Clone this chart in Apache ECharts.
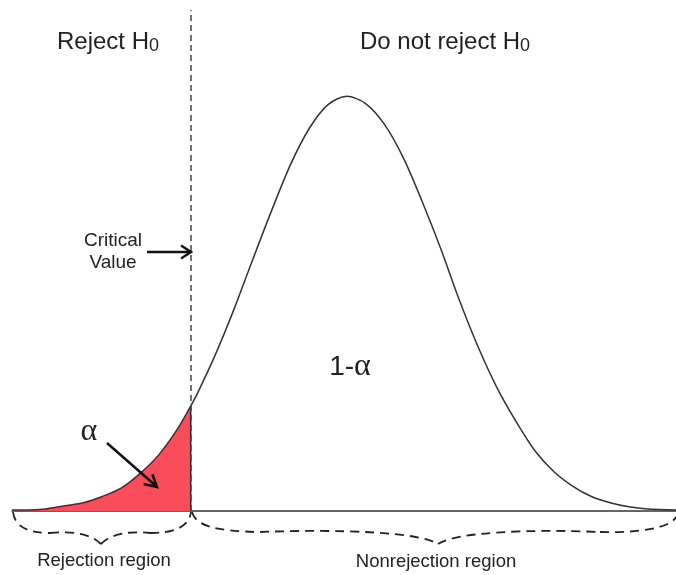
<!DOCTYPE html>
<html>
<head>
<meta charset="utf-8">
<script src="https://cdn.jsdelivr.net/npm/echarts@6/dist/echarts.min.js"></script>
<style>
  html, body { margin: 0; padding: 0; background: #fff; }
  #chart { width: 676px; height: 575px; }
</style>
</head>
<body>
<div id="chart"></div>
<script>
// curve: z position and height of the density
const zValues = [-3.56, -3.4, -3.2, -3.0, -2.8, -2.6, -2.4, -2.2, -2.0, -1.8,
  -1.66, -1.6, -1.4, -1.2, -1.0, -0.8, -0.6, -0.4, -0.2, 0,
  0.2, 0.4, 0.6, 0.8, 1.0, 1.2, 1.4, 1.6, 1.8, 2.0,
  2.2, 2.4, 2.6, 2.8, 3.0, 3.2, 3.5];
const density = [0.001, 0.001, 0.002, 0.005, 0.008, 0.014, 0.022, 0.036, 0.054, 0.079,
  0.101, 0.111, 0.150, 0.194, 0.242, 0.289, 0.333, 0.368, 0.391, 0.399,
  0.392, 0.372, 0.340, 0.298, 0.252, 0.202, 0.157, 0.118, 0.086, 0.058,
  0.038, 0.024, 0.014, 0.008, 0.004, 0.002, 0.001];
const criticalZ = -1.66;
const criticalDensity = 0.101;

const curveData = zValues.map((z, i) => [z, density[i]]);
const tailData = curveData.filter(d => d[0] <= criticalZ);

const font = "'Liberation Sans', Arial, sans-serif";
const serif = "'Liberation Serif', 'Times New Roman', serif";
const ink = '#222';
const red = '#f94d5c';

const chart = echarts.init(document.getElementById('chart'));

// dashed braces under the axis
const braceStyle = { stroke: ink, lineWidth: 1.8, lineDash: [9, 6], fill: null };
const brace = (x1, y1, cpx1, cpy1, cpx2, cpy2, x2, y2) => ({
  type: 'bezierCurve', z: 100, silent: true,
  shape: { x1, y1, cpx1, cpy1, cpx2, cpy2, x2, y2 },
  style: braceStyle
});

const option = {
  animation: false,
  backgroundColor: '#fff',
  grid: { left: 12, right: 0, top: 10, bottom: 64 },
  xAxis: {
    type: 'value', min: -3.56, max: 3.5,
    axisLine: { show: true, lineStyle: { color: '#333', width: 1.5 } },
    axisTick: { show: false }, axisLabel: { show: false }, splitLine: { show: false }
  },
  yAxis: {
    type: 'value', min: 0, max: 0.482, show: false
  },
  series: [
    {
      // rejection area fill
      type: 'line', data: tailData, smooth: 0.3, showSymbol: false, z: 2,
      lineStyle: { width: 0 }, areaStyle: { color: red, opacity: 1 }
    },
    {
      type: 'line', data: curveData, smooth: 0.3, showSymbol: false, z: 3,
      lineStyle: { color: '#333', width: 1.5 },
      markLine: {
        silent: true, symbol: 'none', label: { show: false },
        lineStyle: { color: '#444', width: 1.5, type: [6, 4] },
        data: [{ xAxis: criticalZ }]
      }
    },
    {
      type: 'line', data: [[criticalZ, 0], [criticalZ, criticalDensity]],
      showSymbol: false, z: 4, lineStyle: { color: ink, width: 1.5 }
    }
  ],
  graphic: [
    {
      type: 'text', z: 100, x: 57, y: 29,
      style: {
        text: '{m|Reject H}{s|0}', align: 'left', verticalAlign: 'top',
        rich: {
          m: { fontFamily: font, fontSize: 24, lineHeight: 26, fill: ink },
          s: { fontFamily: font, fontSize: 18, lineHeight: 17, verticalAlign: 'bottom', fill: ink }
        }
      }
    },
    {
      type: 'text', z: 100, x: 360, y: 29,
      style: {
        text: '{m|Do not reject H}{s|0}', align: 'left', verticalAlign: 'top',
        rich: {
          m: { fontFamily: font, fontSize: 24, lineHeight: 26, fill: ink },
          s: { fontFamily: font, fontSize: 18, lineHeight: 17, verticalAlign: 'bottom', fill: ink }
        }
      }
    },
    {
      type: 'text', z: 100, x: 113, y: 230,
      style: {
        text: 'Critical\nValue', align: 'center', verticalAlign: 'top',
        fontFamily: font, fontSize: 19, lineHeight: 22, fill: ink
      }
    },
    {
      type: 'line', z: 100, shape: { x1: 147, y1: 252, x2: 190, y2: 252 },
      style: { stroke: '#111', lineWidth: 2.5 }
    },
    {
      type: 'polyline', z: 100, shape: { points: [[181, 245.5], [191, 252], [181, 258.5]] },
      style: { stroke: '#111', lineWidth: 2.5, fill: null }
    },
    {
      type: 'text', z: 100, x: 350, y: 367,
      style: {
        text: '{a|1-}{b|α}', align: 'center', verticalAlign: 'middle',
        rich: {
          a: { fontFamily: font, fontSize: 28, fill: ink },
          b: { fontFamily: serif, fontSize: 32, fill: ink }
        }
      }
    },
    {
      type: 'text', z: 100, x: 89, y: 432,
      style: {
        text: 'α', align: 'center', verticalAlign: 'middle',
        fontFamily: serif, fontSize: 32, fill: ink
      }
    },
    {
      type: 'line', z: 100, shape: { x1: 107, y1: 443, x2: 156, y2: 486 },
      style: { stroke: '#111', lineWidth: 2.5 }
    },
    {
      type: 'polyline', z: 100, shape: { points: [[143.7, 484], [157, 487], [152.3, 474.2]] },
      style: { stroke: '#111', lineWidth: 2.5, fill: null }
    },
    brace(13, 512, 15, 528, 30, 533, 50, 533),
    brace(50, 533, 70, 531, 90, 533, 101, 544),
    brace(101, 544, 112, 533, 130, 531, 150, 533),
    brace(150, 533, 172, 533, 189, 528, 191, 512),
    brace(192, 512, 196, 526, 215, 531, 260, 532),
    brace(260, 532, 340, 529, 420, 532, 438, 544),
    brace(438, 544, 456, 532, 530, 529, 600, 532),
    brace(600, 532, 640, 533, 670, 528, 676, 517),
    {
      type: 'text', z: 100, x: 104, y: 561,
      style: {
        text: 'Rejection region', align: 'center', verticalAlign: 'middle',
        fontFamily: font, fontSize: 18.5, fill: ink
      }
    },
    {
      type: 'text', z: 100, x: 436, y: 562,
      style: {
        text: 'Nonrejection region', align: 'center', verticalAlign: 'middle',
        fontFamily: font, fontSize: 18.5, fill: ink
      }
    }
  ]
};

chart.setOption(option);
</script>
</body>
</html>
